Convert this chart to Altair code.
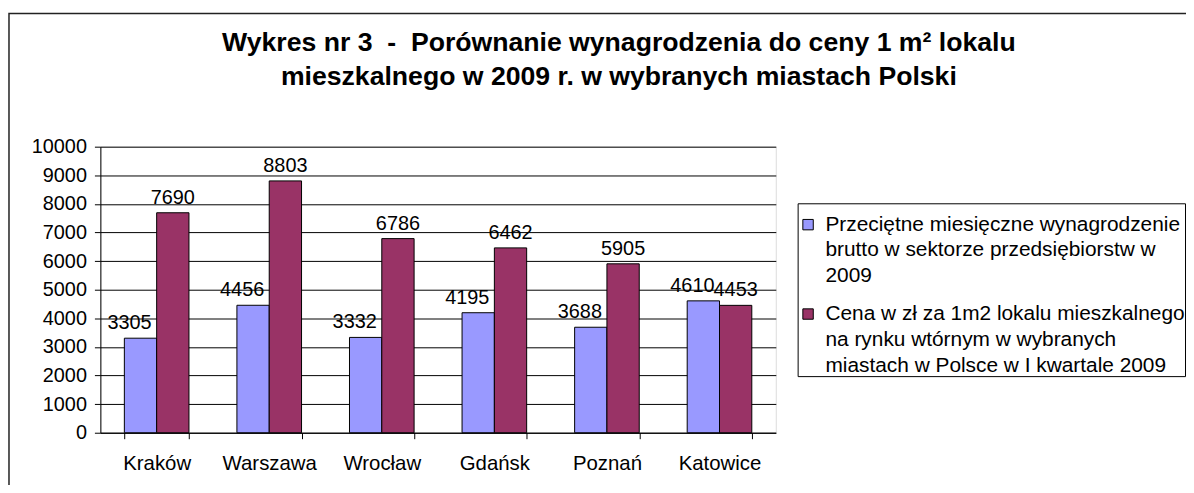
import altair as alt
import pandas as pd

cities = ["Kraków", "Warszawa", "Wrocław", "Gdańsk", "Poznań", "Katowice"]
wages = [3305, 4456, 3332, 4195, 3688, 4610]
prices = [7690, 8803, 6786, 6462, 5905, 4453]
series = [
    "Przeciętne miesięczne wynagrodzenie\nbrutto w sektorze przedsiębiorstw w\n2009",
    "Cena w zł za 1m2 lokalu mieszkalnego\nna rynku wtórnym w wybranych\nmiastach w Polsce w I kwartale 2009",
]
colors = ["#9999FF", "#993366"]
title_lines = [
    "Wykres nr 3 \u00a0- \u00a0Porównanie wynagrodzenia do ceny 1 m² lokalu",
    "mieszkalnego w 2009 r. w wybranych miastach Polski",
]
y_ticks = list(range(0, 10001, 1000))

rows = []
for c, w, p in zip(cities, wages, prices):
    rows.append({"city": c, "series": series[0], "value": w})
    rows.append({"city": c, "series": series[1], "value": p})
df = pd.DataFrame(rows)

FONT = "Liberation Sans"

x_enc = alt.X(
    "city:N",
    sort=cities,
    scale=alt.Scale(paddingInner=0.426, paddingOuter=0.213),
    axis=alt.Axis(
        title=None, labelAngle=0, tickBand="extent", domainColor="black",
        tickColor="black", tickSize=6, labelFontSize=20.5, labelFont=FONT,
        labelPadding=15, labelColor="black", grid=False,
    ),
)
y_enc = alt.Y(
    "value:Q",
    scale=alt.Scale(domain=[0, 10000]),
    axis=alt.Axis(
        values=y_ticks, format="d", title=None, tickSize=6, labelPadding=8,
        labelFontSize=20, labelFont=FONT, labelColor="black",
        gridColor="black", gridWidth=1, domainColor="black", tickColor="black",
    ),
)
xoff = alt.XOffset("series:N", sort=series)

base = alt.Chart(df)

bars = base.mark_bar(stroke="black", strokeWidth=1).encode(
    x=x_enc,
    y=y_enc,
    xOffset=xoff,
    color=alt.Color(
        "series:N",
        sort=series,
        scale=alt.Scale(domain=series, range=colors),
        legend=alt.Legend(
            title=" ", titleFontSize=1, titlePadding=10,
            orient="none", legendX=702, legendY=57,
            strokeColor="black", fillColor="white", padding=0,
            symbolType="square", symbolSize=110, symbolStrokeColor="black",
            symbolStrokeWidth=1, labelFontSize=21, labelFont=FONT,
            labelColor="black", labelExpr="split(datum.label, '\\n')",
            labelLimit=1000, rowPadding=16, labelOffset=7,
        ),
    ),
)

text_blue = base.transform_filter(alt.datum.series == series[0]).mark_text(
    baseline="alphabetic", dy=-9, dx=-11, fontSize=20, font=FONT, color="black"
).encode(x=x_enc, y=y_enc, xOffset=xoff, text=alt.Text("value:Q", format="d"))

text_purple = base.transform_filter(alt.datum.series == series[1]).mark_text(
    baseline="alphabetic", dy=-9, fontSize=20, font=FONT, color="black"
).encode(x=x_enc, y=y_enc, xOffset=xoff, text=alt.Text("value:Q", format="d"))

frame = alt.Chart(alt.Data(values=[{}])).mark_rect(
    filled=False, stroke="#222", strokeWidth=1.5
).encode(
    x=alt.value(-92), x2=alt.value(1200), y=alt.value(-134), y2=alt.value(500)
)

chart = alt.layer(frame, bars, text_blue, text_purple).properties(
    width=680,
    height=288,
    padding={"left": 93, "top": 138, "right": 413, "bottom": 51},
    autosize=alt.AutoSizeParams(type="none"),
    title=alt.TitleParams(
        text=title_lines, fontSize=26.8, fontWeight="bold", font=FONT,
        anchor="middle", dx=182, offset=0, dy=78, lineHeight=34, color="black",
    ),
).configure_view(strokeWidth=0).configure(
    background="white",
    style={"guide-label": {"lineHeight": 26}},
)

chart.save("out.html", embed_options={"renderer": "svg", "actions": False})
